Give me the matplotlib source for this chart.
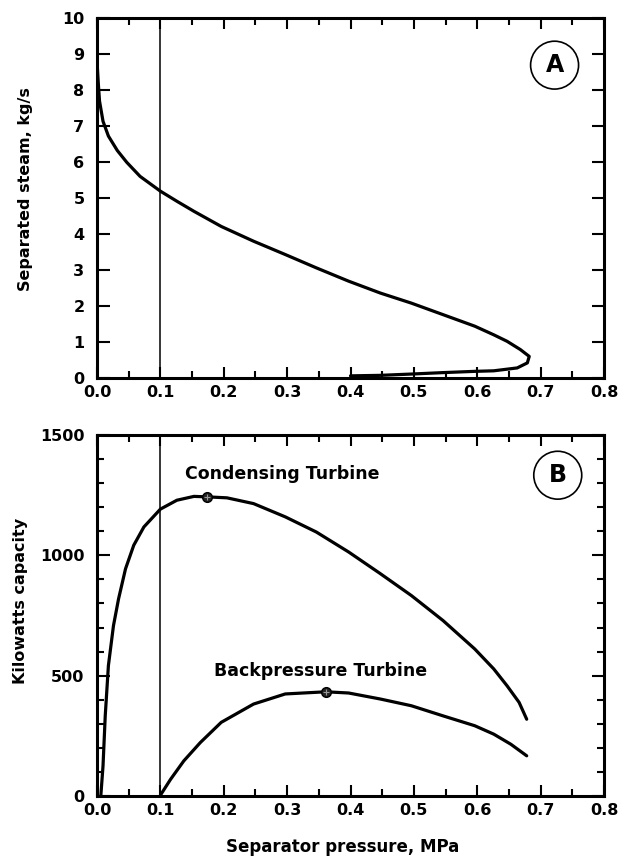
import numpy as np
import matplotlib
matplotlib.use("Agg")
import matplotlib.pyplot as plt
from matplotlib.ticker import MultipleLocator
from matplotlib.patches import Ellipse

plt.rcParams['font.family'] = ['DejaVu Sans']
plt.rcParams['font.weight'] = 'bold'

# panel A: separated steam vs separator pressure
steam_p = [0.0, 0.002, 0.004, 0.0095, 0.018, 0.032, 0.047, 0.068, 0.1, 0.126,
           0.153, 0.196, 0.247, 0.297, 0.346, 0.397, 0.447, 0.496, 0.546, 0.596,
           0.626, 0.647, 0.668, 0.682, 0.679, 0.663, 0.626, 0.596, 0.546, 0.496,
           0.447, 0.4]
steam_flow = [8.8, 8.2, 7.69, 7.13, 6.72, 6.32, 5.99, 5.60, 5.19, 4.91,
              4.63, 4.21, 3.80, 3.43, 3.06, 2.69, 2.36, 2.08, 1.76, 1.44,
              1.20, 1.02, 0.79, 0.60, 0.42, 0.28, 0.20, 0.185, 0.15, 0.11,
              0.074, 0.06]

# panel B: turbine capacity
cond_p = [0.006, 0.0095, 0.013, 0.018, 0.026, 0.034, 0.045, 0.058, 0.074, 0.1,
          0.126, 0.153, 0.174, 0.205, 0.247, 0.297, 0.346, 0.397, 0.447, 0.496,
          0.546, 0.596, 0.626, 0.647, 0.666, 0.678]
cond_kw = [0, 125, 333, 542, 708, 819, 944, 1042, 1118, 1192,
           1229, 1245, 1243, 1239, 1215, 1160, 1097, 1014, 924, 833,
           729, 611, 528, 458, 389, 319]
back_p = [0.1, 0.116, 0.137, 0.163, 0.196, 0.247, 0.297, 0.361, 0.397, 0.447,
          0.496, 0.546, 0.596, 0.626, 0.653, 0.678]
back_kw = [3, 69, 146, 222, 306, 382, 424, 433, 428, 403,
           375, 333, 292, 257, 215, 167]
opt_p = [0.174, 0.361]
opt_kw = [1243, 433]

fig = plt.figure(figsize=(6.19, 8.56), dpi=100)
axA = fig.add_axes([0.1567, 0.5584, 0.8191, 0.4206])
axB = fig.add_axes([0.1567, 0.0701, 0.8191, 0.4217])


def style(ax):
    for s in ax.spines.values():
        s.set_linewidth(2.2)
    ax.tick_params(which='both', direction='in', top=True, right=True,
                   width=1.5, labelsize=11.5)
    ax.tick_params(axis='x', which='major', length=8, pad=5)
    ax.tick_params(axis='x', which='minor', length=5)
    ax.tick_params(axis='y', which='major', length=9, pad=9)
    ax.tick_params(axis='y', which='minor', length=5)
    ax.xaxis.set_major_locator(MultipleLocator(0.1))
    ax.xaxis.set_minor_locator(MultipleLocator(0.05))
    ax.set_xlim(0, 0.8)
    ax.xaxis.set_major_formatter(plt.FormatStrFormatter('%.1f'))
    ax.axvline(0.1, color='black', lw=1.1)


def badge(ax, x, y, h, letter):
    # circled panel letter, width set so it looks round on screen
    ax.add_patch(Ellipse((x, y), 0.0757, h, fill=False, lw=1.2,
                         color='black'))
    ax.text(x, y, letter, ha='center', va='center', fontsize=17,
            fontweight='bold')


style(axA)
axA.plot(steam_p, steam_flow, color='black', lw=2.3, solid_capstyle='round',
         solid_joinstyle='round')
axA.set_ylim(0, 10)
axA.yaxis.set_major_locator(MultipleLocator(1))
axA.set_ylabel("Separated steam, kg/s", fontsize=11.5, fontweight='bold')
axA.yaxis.set_label_coords(-0.126, 0.525)
badge(axA, 0.722, 8.69, 1.33, "A")

style(axB)
axB.plot(cond_p, cond_kw, color='black', lw=2.3, solid_capstyle='round',
         solid_joinstyle='round')
axB.plot(back_p, back_kw, color='black', lw=2.3, solid_capstyle='round',
         solid_joinstyle='round')
axB.plot(opt_p, opt_kw, 'o', color='black', ms=7, mfc='#222222', mew=1.0)
axB.plot(opt_p, opt_kw, '+', color='#999999', ms=5, mew=0.8)
axB.set_ylim(0, 1500)
axB.yaxis.set_major_locator(MultipleLocator(500))
axB.yaxis.set_minor_locator(MultipleLocator(100))
axB.set_ylabel("Kilowatts capacity", fontsize=11.5, fontweight='bold')
axB.yaxis.set_label_coords(-0.136, 0.54)
axB.set_xlabel("Separator pressure, MPa", fontsize=12, fontweight='bold')
axB.xaxis.set_label_coords(0.484, -0.116)
axB.text(0.293, 1336, "Condensing Turbine", ha='center', va='center',
         fontsize=12.5, fontweight='bold')
axB.text(0.353, 521, "Backpressure Turbine", ha='center', va='center',
         fontsize=12.5, fontweight='bold')
badge(axB, 0.727, 1333, 199, "B")

fig.savefig("out.png", dpi=100)
